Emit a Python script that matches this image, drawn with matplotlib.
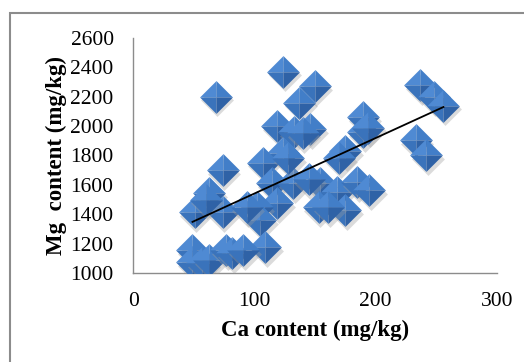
import numpy as np
import matplotlib
matplotlib.use("Agg")
import matplotlib.pyplot as plt
from matplotlib.patches import Rectangle

# data
ca = [68, 124, 150, 137, 119, 146, 133, 140, 190, 190, 194, 175, 124, 107,
      237, 248, 256, 233, 242, 74, 115, 132, 119, 102, 105, 109, 154, 168,
      185, 195, 153, 175, 161, 63, 51, 74, 94, 49, 49, 57, 63, 77, 82, 91,
      60, 170, 145, 128]
mg = [2200, 2370, 2270, 2160, 2000, 1980, 1960, 1950, 2060, 1960, 1990, 1830,
      1820, 1750, 2280, 2200, 2140, 1905, 1800, 1700, 1612, 1612, 1476, 1449,
      1360, 1177, 1612, 1551, 1619, 1565, 1449, 1429, 1449, 1544, 1415, 1415,
      1449, 1156, 1075, 1068, 1088, 1156, 1136, 1156, 1500, 1780, 1640, 1780]
x_ticks = [0, 100, 200, 300]
y_ticks = [1000, 1200, 1400, 1600, 1800, 2000, 2200, 2400, 2600]

plt.rcParams['font.family'] = ['Liberation Serif', 'DejaVu Serif']

fig = plt.figure(figsize=(5.24, 3.62), dpi=100)
ax = fig.add_axes([0.254, 0.246, 0.694, 0.649])

# bevelled diamond markers: four facets per point
top_l = [(-1, 0), (0, 1), (0, 0)]
top_r = [(0, 1), (1, 0), (0, 0)]
bot_l = [(-1, 0), (0, -1), (0, 0)]
bot_r = [(0, -1), (1, 0), (0, 0)]
facets = [(top_l, '#4f8ad3'), (top_r, '#427ec8'),
          (bot_l, '#3a73bb'), (bot_r, '#2f62a6')]
s = 280
for i, (xv, yv) in enumerate(zip(ca, mg)):
    z = 3 + i * 0.01
    ax.scatter([xv + 1.2], [yv - 25], s=s, marker='D', color='#9a9a9a',
               alpha=0.35, linewidths=0, zorder=z)
    for verts, col in facets:
        ax.scatter([xv], [yv], s=s * 2, marker=verts, color=col,
                   linewidths=0, zorder=z + 0.001)

# linear trendline
k, b = np.polyfit(ca, mg, 1)
xs = np.array([min(ca), max(ca)])
ax.plot(xs, k * xs + b, color='black', lw=1.3, zorder=10)

ax.set_xlim(0, 300)
ax.set_ylim(1000, 2600)
ax.set_xticks(x_ticks)
ax.set_yticks(y_ticks)
ax.tick_params(length=0, labelsize=15.5)
ax.tick_params(axis='y', pad=14)
ax.tick_params(axis='x', pad=14)
for side in ['top', 'right']:
    ax.spines[side].set_visible(False)
for side in ['left', 'bottom']:
    ax.spines[side].set_color('#8c8c8c')
    ax.spines[side].set_linewidth(1.0)

ax.set_xlabel('Ca content (mg/kg)', fontsize=16.5, fontweight='bold', labelpad=6)
ax.set_ylabel('Mg  content (mg/kg)', fontsize=16.5, fontweight='bold', labelpad=2)

# outer chart border
fig.patches.append(Rectangle((10 / 524, -0.05), 1.1, 1 - 13 / 362 + 0.05,
                             transform=fig.transFigure, fill=False,
                             edgecolor='#8c8c8c', lw=1.5))

fig.savefig('out.png', dpi=100)
